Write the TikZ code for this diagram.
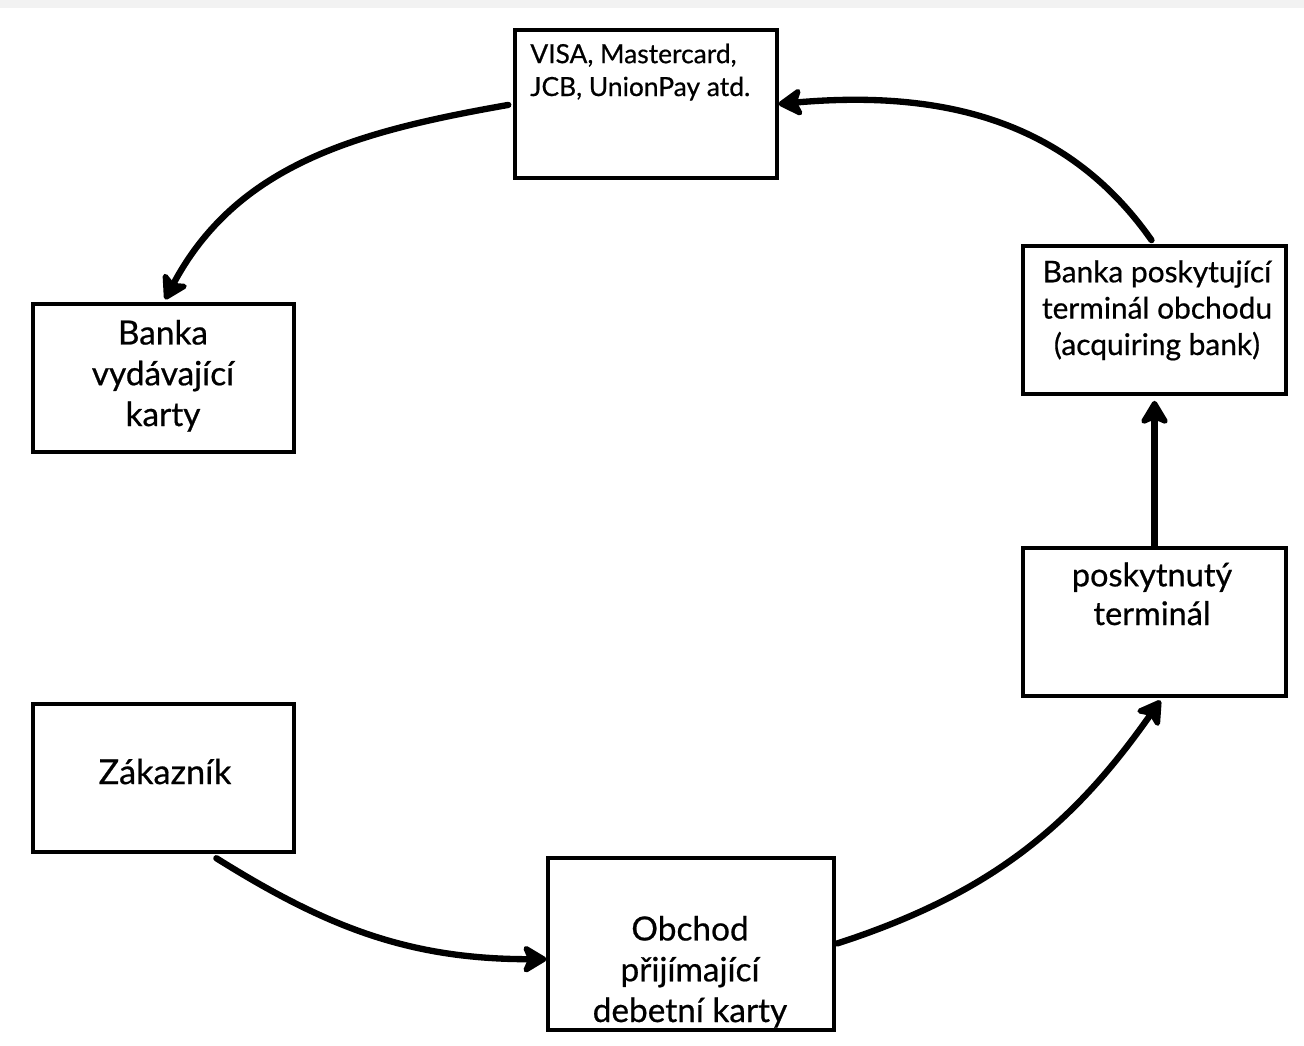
\documentclass[tikz,border=0pt]{standalone}
\usepackage{fontspec}
\setmainfont{Lato}[FakeBold=0.6]
\usetikzlibrary{arrows.meta}

\tikzset{
  box/.style={draw, line width=1.8pt, inner sep=0pt},
  txt/.style={inner sep=0pt, align=center, anchor=base},
  flow/.style={line width=3.6pt, line cap=round, -{Stealth[length=16pt,width=19pt,inset=4pt,round]}},
}

\begin{document}
\begin{tikzpicture}[x=0.02cm,y=-0.02cm]
    \useasboundingbox (0,0) rectangle (1304,1045);
    \fill[black!5] (0,0) rectangle (1304,8);
    \node[box, minimum width=5.24cm, minimum height=2.96cm] (visa) at (646,104) {};
    \node[box, minimum width=5.22cm, minimum height=2.96cm] (issuer) at (163.5,378) {};
    \node[box, minimum width=5.26cm, minimum height=2.96cm] (acq) at (1154.5,320) {};
    \node[box, minimum width=5.26cm, minimum height=2.96cm] (term) at (1154.5,622) {};
    \node[box, minimum width=5.22cm, minimum height=2.96cm] (cust) at (163.5,778) {};
    \node[box, minimum width=5.72cm, minimum height=3.44cm] (shop) at (691,944) {};
    \node[txt, anchor=base west, align=left, font=\fontsize{15}{18.7}\selectfont] (visa-t) at (530,96) {VISA, Mastercard,\\JCB, UnionPay atd.};
    \node[txt, font=\fontsize{19}{23.2}\selectfont] (issuer-t) at (163,426) {Banka\\vydávající\\karty};
    \node[txt, font=\fontsize{17}{20.7}\selectfont] (acq-t) at (1157,355) {Banka poskytující\\terminál obchodu\\(acquiring bank)};
    \node[txt, font=\fontsize{18.5}{22}\selectfont] (term-t) at (1152,625) {poskytnutý\\terminál};
    \node[txt, font=\fontsize{19.5}{23}\selectfont] (cust-t) at (165,784) {Zákazník};
    \node[txt, font=\fontsize{19}{23.2}\selectfont] (shop-t) at (690,1022) {Obchod\\přijímající\\debetní karty};
    \draw[flow, shorten <=3pt, shorten >=2pt] (visa.west) to[out=190,in=62] (issuer.north);
    \draw[flow, shorten <=3pt] (acq.north) to[out=125,in=5] (visa.east);
    \draw[flow, shorten >=3pt] (term.north) -- (acq.south);
    \draw[flow, shorten <=1pt, shorten >=2pt] (shop.east) to[out=18,in=235] (term.276);
    \draw[flow, shorten <=5pt] (cust.301) to[out=-32,in=180] (shop.186);
\end{tikzpicture}
\end{document}
